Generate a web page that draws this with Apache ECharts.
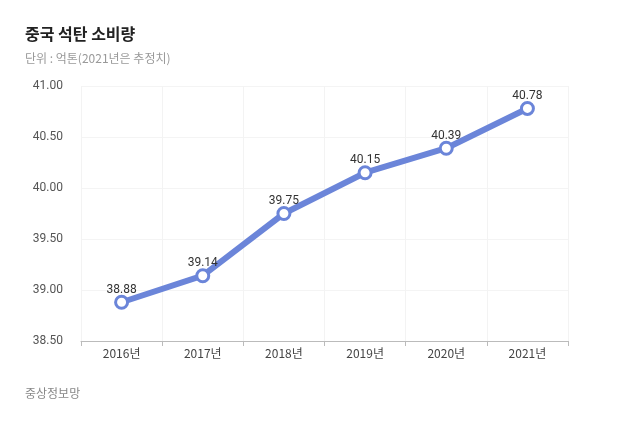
<!DOCTYPE html>
<html><head><meta charset="utf-8">
<script src="https://cdn.jsdelivr.net/npm/echarts@6/dist/echarts.min.js"></script>
<style>html,body{margin:0;padding:0;background:#fff}#c{width:640px;height:425px}</style>
</head><body><div id="c"></div>
<script>
const categories = ['2016년','2017년','2018년','2019년','2020년','2021년'];
const values = [38.88, 39.14, 39.75, 40.15, 40.39, 40.78];
const titleText = '중국 석탄 소비량';
const subText = '단위 : 억톤(2021년은 추정치)';
const sourceText = '중상정보망';
const font = '"Noto Sans CJK KR", "Noto Sans", sans-serif';
const chart = echarts.init(document.getElementById('c'));
chart.setOption({
  animation:false,
  backgroundColor:'#fff',
  title:[{text:titleText, left:20, top:21, textStyle:{fontSize:16, fontWeight:'bold', color:'#222', fontFamily:font},
    subtext:subText, subtextStyle:{fontSize:12, color:'#999', fontFamily:font}, itemGap:10},
    {text:sourceText, left:20, top:382, textStyle:{fontSize:12, fontWeight:'normal', color:'#888', fontFamily:font}}],
  grid:{left:81, right:72, top:86, bottom:84, containLabel:false},
  xAxis:{type:'category', data:categories, boundaryGap:true,
    axisLine:{lineStyle:{color:'#bbb'}}, axisTick:{show:true, length:5, lineStyle:{color:'#bbb'}},
    axisLabel:{color:'#444', fontSize:12, fontFamily:font, margin:6},
    splitLine:{show:true, lineStyle:{color:'#f3f3f3'}}},
  yAxis:{type:'value', min:38.5, max:41, interval:0.5,
    axisLine:{show:false}, axisTick:{show:false},
    axisLabel:{color:'#555', fontSize:12, fontFamily:'Roboto, sans-serif', margin:18, formatter:v=>v.toFixed(2)},
    splitLine:{lineStyle:{color:'#f4f4f4'}}},
  series:[{type:'line', data:values, symbol:'circle', symbolSize:12,
    lineStyle:{color:'#6b85d9', width:6},
    itemStyle:{color:'#fff', borderColor:'#6b85d9', borderWidth:3},
    label:{show:true, position:'top', distance:-1, color:'#333', fontSize:12, fontFamily:'Roboto, sans-serif', formatter:p=>p.value.toFixed(2)}}]
});
</script></body></html>
